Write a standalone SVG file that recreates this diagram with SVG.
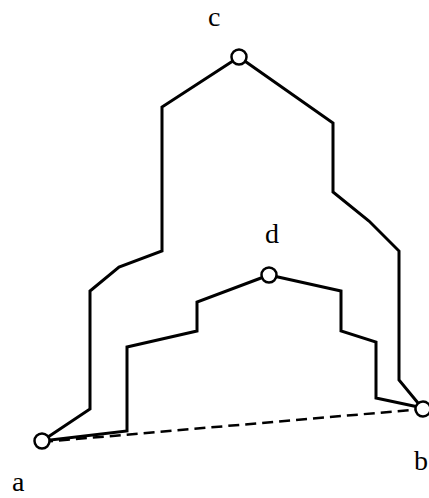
<svg xmlns="http://www.w3.org/2000/svg" width="429" height="498" viewBox="0 0 429 498">
<style>
.edge{fill:none;stroke:#000;stroke-width:3;stroke-linejoin:miter}
.dash{fill:none;stroke:#000;stroke-width:2.5;stroke-dasharray:11 6}
.node{fill:#fff;stroke:#000;stroke-width:2.5}
.lbl{font-family:"Liberation Serif","Times New Roman",serif;font-size:28px;fill:#000}
</style>
<rect width="429" height="498" fill="#fff"/>
<g id="connectors">
<path class="edge" d="M239,57 L162,107 L162,251 L119,267 L90,291 L90,409 L42,441"/>
<path class="edge" d="M239,57 L333,123 L333,192 L369,221 L399,251 L399,380 L418,403 L423,408"/>
<path class="edge" d="M269,275 L197,302 L197,331 L127,347 L127,431 L42,441"/>
<path class="edge" d="M269,275 L341,291 L341,331 L376,342 L376,398 L423,408"/>
<path class="dash" d="M42,442 L423,409"/>
</g>
<g id="node-c"><circle class="node" cx="239" cy="57" r="7.5"/><text class="lbl" x="208" y="26">c</text></g>
<g id="node-d"><circle class="node" cx="269" cy="275" r="7.5"/><text class="lbl" x="265" y="243">d</text></g>
<g id="node-a"><circle class="node" cx="42" cy="441" r="7.5"/><text class="lbl" x="12" y="491">a</text></g>
<g id="node-b"><circle class="node" cx="423" cy="409" r="7.5"/><text class="lbl" x="414" y="470">b</text></g>
</svg>
